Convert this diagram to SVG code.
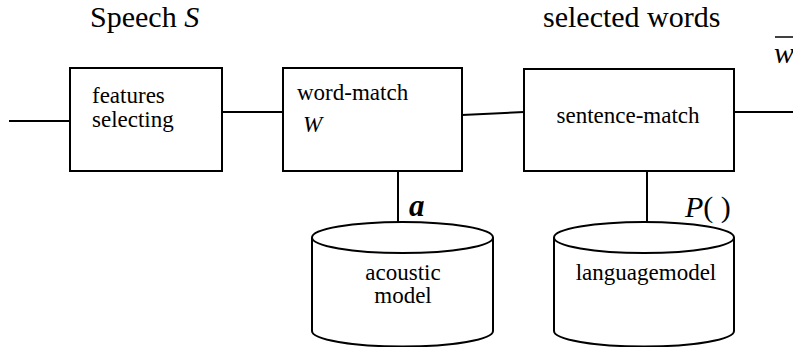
<svg xmlns="http://www.w3.org/2000/svg" width="793" height="347" viewBox="0 0 793 347">
<style>
.box{fill:#fff;stroke:#000;stroke-width:2}
.ln{fill:none;stroke:#000;stroke-width:2}
.t{font-family:"Liberation Serif","Times New Roman",serif;font-size:23px;fill:#000}
.big{font-family:"Liberation Serif","Times New Roman",serif;font-size:30px;fill:#000}
.it{font-style:italic}
</style>
<rect width="793" height="347" fill="#fff"/>
<g id="connectors">
<line class="ln" x1="9" y1="121" x2="70" y2="121"/>
<line class="ln" x1="222" y1="112" x2="283" y2="112"/>
<line class="ln" x1="462" y1="115" x2="524" y2="112"/>
<line class="ln" x1="734" y1="112" x2="793" y2="112"/>
<line class="ln" x1="398" y1="171" x2="398" y2="222"/>
<line class="ln" x1="647" y1="171" x2="647" y2="222"/>
</g>
<g id="speech-label"><text class="big" x="90" y="27">Speech <tspan class="it">S</tspan></text></g>
<g id="selected-label"><text class="big" x="543" y="27">selected words</text></g>
<g id="wbar-label">
<line x1="775" y1="37" x2="793" y2="37" stroke="#000" stroke-width="1.5"/>
<text class="big it" x="774" y="63">w</text>
</g>
<g id="features">
<rect class="box" x="70" y="68" width="152" height="103"/>
<text class="t" x="92" y="103">features</text>
<text class="t" x="92" y="127">selecting</text>
</g>
<g id="word-match">
<rect class="box" x="283" y="68" width="179" height="103"/>
<text class="t" x="297" y="100">word-match</text>
<text class="t it" x="303" y="132">W</text>
</g>
<g id="sentence-match">
<rect class="box" x="524" y="69" width="210" height="102"/>
<text class="t" x="628" y="123" text-anchor="middle">sentence-match</text>
</g>
<g id="a-label"><text x="409" y="216" font-family="Liberation Serif,serif" font-size="31" font-weight="bold" font-style="italic">a</text></g>
<g id="p-label"><text class="big it" x="685" y="217">P<tspan font-style="normal">( )</tspan></text></g>
<g id="acoustic-model">
<path class="ln" fill="#fff" d="M312,237.5 L312,331 A90.5,15.5 0 0 0 493,331 L493,237.5"/>
<ellipse class="ln" cx="402.5" cy="237.5" rx="90.5" ry="15.5"/>
<text class="t" x="403" y="280" text-anchor="middle">acoustic</text>
<text class="t" x="403" y="303" text-anchor="middle">model</text>
</g>
<g id="language-model">
<path class="ln" d="M554,237.5 L554,331 A90,15.5 0 0 0 734,331 L734,237.5"/>
<ellipse class="ln" cx="644" cy="237.5" rx="90" ry="15.5"/>
<text class="t" x="646" y="280" text-anchor="middle">languagemodel</text>
</g>
</svg>
